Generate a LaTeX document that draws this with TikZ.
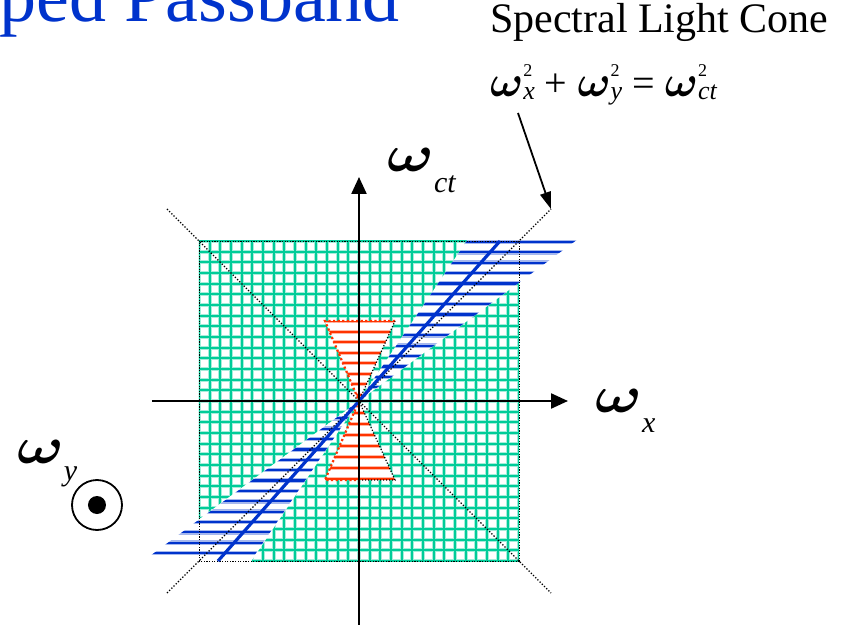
\documentclass[tikz,border=0pt]{standalone}
\usepackage{fontspec}
\setmainfont{Liberation Serif}
\usetikzlibrary{arrows.meta}

\definecolor{passgreen}{RGB}{0,204,153}
\definecolor{waveblue}{RGB}{0,51,204}
\definecolor{conered}{RGB}{255,51,0}

% omega with subscript and squared
\newcommand{\omsq}[1]{\scalebox{4.4}{\normalsize\boldmath$\omega$}\rlap{\raisebox{20pt}{\fontsize{18}{18}\selectfont 2}}\raisebox{-3pt}{\fontsize{26}{26}\selectfont\itshape #1}}
% big axis omega with low subscript
\newcommand{\omaxis}[2]{\scalebox{6.2}[5.2]{\normalsize\boldmath$\omega$}\raisebox{#2}{\fontsize{30}{30}\selectfont\itshape #1}}

\begin{document}
\begin{tikzpicture}[x=1pt, y=1pt,
  gridhalo/.style={passgreen!35, line width=3.8pt},
  gridline/.style={passgreen, line width=1.9pt},
  stripehalo/.style={waveblue!35, line width=4.5pt},
  stripeline/.style={waveblue, line width=2.2pt},
  redhalo/.style={conered!35, line width=4pt},
  redline/.style={conered, line width=2pt},
  lightcone/.style={black, line width=1.3pt, dash pattern=on 1.3pt off 1.8pt},
  boxedge/.style={black, line width=0.8pt, dash pattern=on 1.2pt off 1.4pt},
  redrim/.style={conered, line width=2.2pt, dash pattern=on 2.2pt off 2.4pt},
  darkrim/.style={black, line width=1.2pt, dash pattern=on 1.2pt off 1.8pt},
  axis/.style={black, line width=2.3pt, -{Triangle[length=17pt,width=15pt]}},
  label/.style={anchor=base west, inner sep=0pt}]
\useasboundingbox (-359,-223) rectangle (492,401);

% passband grid
\begin{scope}
\clip (-160,-160) rectangle (160,160);
\foreach \k in {0,...,30} {
  \draw[gridhalo] (-160+10.667*\k,-160) -- (-160+10.667*\k,160);
  \draw[gridhalo] (-160,-160+10.667*\k) -- (160,-160+10.667*\k);
}
\foreach \k in {0,...,30} {
  \draw[gridline] (-160+10.667*\k,-160) -- (-160+10.667*\k,160);
  \draw[gridline] (-160,-160+10.667*\k) -- (160,-160+10.667*\k);
}
\end{scope}

% hatched band round the light line
\fill[white] (0,0) -- (219,162) -- (109,162) -- cycle;
\fill[white] (0,0) -- (-219,-162) -- (-109,-162) -- cycle;
\begin{scope}
\clip (0,0) -- (219,162) -- (109,162) -- cycle
      (0,0) -- (-209,-155) -- (-105,-155) -- cycle;
\foreach \k in {0,...,30} {
  \draw[stripehalo] (-240,159-10.37*\k) -- (240,159-10.37*\k);
  \draw[stripeline] (-240,159-10.37*\k) -- (240,159-10.37*\k);
}
\end{scope}

\draw[boxedge] (-160,-160) rectangle (160,160);

% light cone diagonals
\coordinate (sw) at (-192,-192);
\coordinate (ne) at (192,192);
\coordinate (nw) at (-192,192);
\coordinate (se) at (192,-192);
\draw[lightcone] (sw) -- (ne);
\draw[lightcone] (nw) -- (se);

% red cone
\coordinate (apex) at (0,0);
\coordinate (ul) at (-34,80);
\coordinate (ur) at (36,80);
\coordinate (ll) at (-34,-79);
\coordinate (lm) at (0,-79);
\coordinate (lr) at (36,-79);
\fill[white] (apex) -- (ul) -- (ur) -- cycle;
\fill[white] (apex) -- (ll) -- (lr) -- cycle;
\begin{scope}
\clip (apex) -- (ul) -- (ur) -- cycle (apex) -- (ll) -- (lr) -- cycle;
\foreach \k in {0,...,7} {
  \draw[redhalo] (-40,80-10.5*\k) -- (40,80-10.5*\k);
  \draw[redline] (-40,80-10.5*\k) -- (40,80-10.5*\k);
}
\foreach \k in {0,...,6} {
  \draw[redhalo] (-40,-78+11*\k) -- (40,-78+11*\k);
  \draw[redline] (-40,-78+11*\k) -- (40,-78+11*\k);
}
\end{scope}
\draw[redrim] (ur) -- (ul) -- (apex);
\draw[darkrim] (apex) -- (ur);
\draw[redrim] (apex) -- (ll) -- (lm);
\draw[darkrim] (lm) -- (lr) -- (apex);

% light line
\coordinate (lbot) at (-141,-160);
\coordinate (ltop) at (141,160);
\draw[waveblue, line width=3.2pt] (lbot) -- (ltop);

% axes
\coordinate (xl) at (-207,0);
\coordinate (xr) at (209,0);
\coordinate (yb) at (0,-226);
\coordinate (yt) at (0,224);
\draw[axis] (xl) -- (xr);
\draw[axis] (yb) -- (yt);

% labels
\node[label, text=waveblue] (title) at (-360,379) {\fontsize{74}{74}\selectfont ped Passband};
\node[label] (conetitle) at (131,368) {\fontsize{42}{42}\selectfont Spectral Light Cone};
\node[label] (coneeq) at (131,304) {\fontsize{40}{40}\selectfont \omsq{x} + \omsq{y} = \omsq{ct}};
\coordinate (eqfoot) at (159,288);
\draw[black, line width=1.8pt, -{Triangle[length=17pt,width=11pt]}] (eqfoot) -- (ne);

\node[label] (wct) at (28,229) {\omaxis{ct}{-21pt}};
\node[label] (wx) at (236,-11) {\omaxis{x}{-20pt}};
\node[label] (wy) at (-342,-62) {\omaxis{y}{-17pt}};

\node[draw, circle, line width=1.8pt, minimum size=50pt, inner sep=0pt] (ydir) at (-262,-104) {};
\node[circle, fill=black, minimum size=18pt, inner sep=0pt] (ydot) at (ydir.center) {};
\end{tikzpicture}
\end{document}
